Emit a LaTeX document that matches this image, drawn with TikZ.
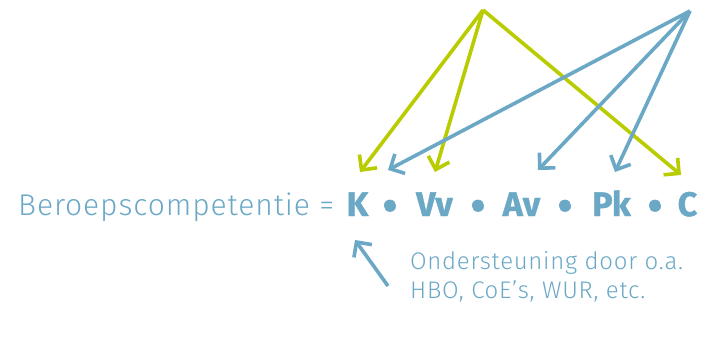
\documentclass[tikz,border=0pt]{standalone}
\usepackage{fontspec}
\setmainfont{Fira Sans}
\newfontfamily\lightf{Fira Sans Light}[LetterSpace=3]
\newfontfamily\boldf{Fira Sans}[BoldFeatures={FakeBold=1.2}]
\usetikzlibrary{arrows.meta}
\definecolor{cblue}{RGB}{106,168,198}
\definecolor{cgreen}{RGB}{184,204,0}
\begin{document}
\begin{tikzpicture}[x=1pt,y=-1pt,
  arr/.style={line width=3.6pt,-{Straight Barb[length=11pt,width=22pt,line width=3.6pt]}},
  lbl/.style={inner sep=0pt,text=cblue},
  term/.style={lbl,anchor=base,font=\boldf\bfseries\fontsize{34}{34}\selectfont},
  dotsym/.style={lbl,anchor=center,font=\boldf\bfseries\fontsize{42}{42}\selectfont}]
\useasboundingbox (0,0) rectangle (705,338);
\node[lbl,anchor=base west,font=\lightf\fontsize{30}{30}\selectfont] (lhs) at (18,215) {Beroepscompetentie =};
\node[term] (K) at (357.5,216) {K};
\node[dotsym] (d1) at (390,210) {•};
\node[term] (Vv) at (434.5,216) {Vv};
\node[dotsym] (d2) at (478,210) {•};
\node[term] (Av) at (521.5,216) {Av};
\node[dotsym] (d3) at (565,210) {•};
\node[term] (Pk) at (611.5,216) {Pk};
\node[dotsym] (d4) at (655,210) {•};
\node[term] (C) at (687.5,216) {C};
\node[lbl,anchor=base west,align=left,font=\lightf\fontsize{24}{29}\selectfont] (note) at (410,298) {Ondersteuning door o.a.\\HBO, CoE’s, WUR, etc.};
\coordinate (ga) at (483,10);
\coordinate (ba) at (690,11);
\coordinate (tK) at (360,172);
\coordinate (tVv) at (435,172);
\coordinate (tC) at (681,175);
\coordinate (bK) at (388,170);
\coordinate (tAv) at (538,170);
\coordinate (tPk) at (615,172);
\coordinate (ns) at (388,286);
\coordinate (ne) at (355,240);
\draw[arr,cgreen] (ga) -- (tK);
\draw[arr,cgreen] (ga) -- (tVv);
\draw[arr,cgreen] (ga) -- (tC);
\draw[arr,cblue] (ba) -- (bK);
\draw[arr,cblue] (ba) -- (tAv);
\draw[arr,cblue] (ba) -- (tPk);
\draw[arr,cblue] (ns) -- (ne);
\end{tikzpicture}
\end{document}
